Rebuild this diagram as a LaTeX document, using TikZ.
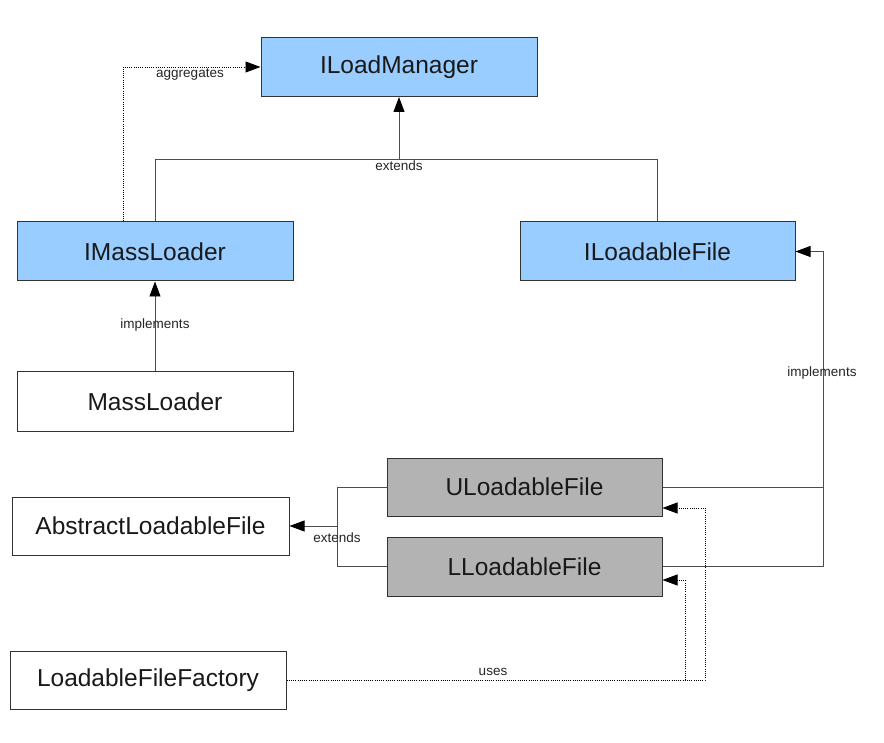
\documentclass[tikz,border=0pt]{standalone}
\usepackage{fontspec}
\setmainfont{Liberation Sans}
\usepackage{tikz}
\usetikzlibrary{arrows.meta}
\definecolor{IfaceBlue}{HTML}{99CCFF}
\definecolor{ImplGray}{HTML}{B3B3B3}
\definecolor{BoxEdge}{HTML}{333333}
\definecolor{LinkGray}{HTML}{4D4D4D}

\begin{document}
\begin{tikzpicture}[x=1pt,y=-1pt,
  classbox/.style={draw=BoxEdge,line width=1pt,fill=white,minimum width=276pt,minimum height=59pt,inner sep=0pt,font=\fontsize{24.5}{28}\selectfont,text=black!90},
  iface/.style={classbox,fill=IfaceBlue},
  impl/.style={classbox,fill=ImplGray},
  link/.style={draw=LinkGray,line width=.9pt},
  tip/.style={-{Triangle[length=15pt,width=11pt,black]}},
  dots/.style={line width=.8pt,dash pattern=on 1pt off 1.2pt},
  lbl/.style={font=\fontsize{13.5}{15}\selectfont,text=black!85,inner sep=1pt}]
  \useasboundingbox[fill=white] (0,0) rectangle (884,743);

  % class boxes
  \node[iface] (ILoadManager) at (399,67) {ILoadManager};
  \node[iface] (IMassLoader) at (155,251.5) {IMassLoader};
  \node[iface,minimum width=275pt] (ILoadableFile) at (657.5,251.5) {ILoadableFile};
  \node[classbox] (MassLoader) at (155,401.5) {MassLoader};
  \node[classbox,minimum width=277pt,minimum height=58pt] (AbstractLoadableFile) at (150.5,526) {AbstractLoadableFile};
  \node[impl,minimum width=275pt,minimum height=58pt] (ULoadableFile) at (524.5,487) {ULoadableFile};
  \node[impl,minimum width=275pt] (LLoadableFile) at (524.5,566.5) {LLoadableFile};
  \node[classbox,minimum height=58pt] (LoadableFileFactory) at (148,680) {LoadableFileFactory};

  % junction points
  \coordinate (topJoin) at (399,159);
  \coordinate (absJoin) at (337,526);
  \coordinate (implCorner) at (823,251.5);
  \coordinate (usesU) at (705,508);
  \coordinate (usesL) at (685,580);

  % interfaces extend ILoadManager
  \draw[link] (IMassLoader.north) |- (topJoin);
  \draw[link] (ILoadableFile.north) |- (topJoin);
  \draw[link,tip] (topJoin) -- (ILoadManager.south);
  \node[lbl] (extendsTop) at (399,166) {extends};

  % aggregation
  \draw[dots,tip] ([xshift=-32pt]IMassLoader.north) |- (ILoadManager.west);
  \node[lbl] (aggregatesLbl) at (190,75) {aggregates};

  % MassLoader implements IMassLoader
  \draw[link,tip] (MassLoader.north) -- (IMassLoader.south);
  \node[lbl] (implementsLeft) at (155,325) {implements};

  % U/L implement ILoadableFile
  \draw[link] (ULoadableFile.east) -| (implCorner);
  \draw[link] (LLoadableFile.east) -| (implCorner);
  \draw[link,tip] (implCorner) -- (ILoadableFile.east);
  \node[lbl] (implementsRight) at (822,373) {implements};

  % U/L extend AbstractLoadableFile
  \draw[link] (ULoadableFile.west) -| (absJoin);
  \draw[link] (LLoadableFile.west) -| (absJoin);
  \draw[link,tip] (absJoin) -- (AbstractLoadableFile.east);
  \node[lbl] (extendsLow) at (337,538) {extends};

  % factory uses
  \draw[dots,tip] (LoadableFileFactory.east) -| (usesU) -- ([yshift=-21pt]ULoadableFile.east);
  \draw[dots,tip] (LoadableFileFactory.east) -| (usesL) -- ([yshift=-13.5pt]LLoadableFile.east);
  \node[lbl] (usesLbl) at (493,672) {uses};
\end{tikzpicture}
\end{document}
